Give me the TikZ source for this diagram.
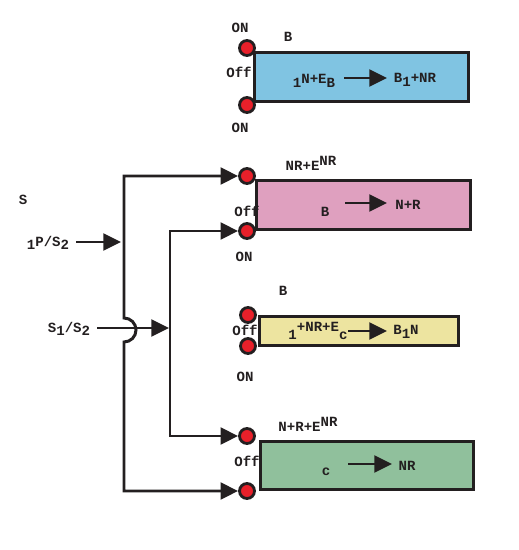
\documentclass[tikz,border=0pt]{standalone}
\usepackage{fontspec}
\usepackage{xcolor}
\usepackage{tikz}
\usetikzlibrary{arrows.meta,positioning}
\newfontfamily\monob{Liberation Mono}
\newcommand{\lowr}[1]{\raisebox{-0.45ex}{#1}}
\newcommand{\highr}[1]{\raisebox{0.7ex}{#1}}
\definecolor{inkc}{HTML}{231F20}
\definecolor{bluef}{HTML}{80C4E2}
\definecolor{pinkf}{HTML}{DFA0BF}
\definecolor{yellowf}{HTML}{EDE4A0}
\definecolor{greenf}{HTML}{90C09C}
\definecolor{pinr}{HTML}{E8202A}
\tikzset{
  lbl/.style = {font=\monob\bfseries\fontsize{8}{9}\selectfont, text=inkc, inner sep=0pt},
  stage/.style = {draw=inkc, line width=1.7pt, anchor=north west, minimum height=0.98cm, minimum width=4.28cm},
  pin/.style = {circle, draw=inkc, fill=pinr, line width=1.6pt, minimum size=0.3cm, inner sep=0pt},
  wire/.style = {draw=inkc, line width=1.7pt},
  tip/.style = {-{Triangle[length=10pt,width=9.5pt]}}
}

\begin{document}
\begin{tikzpicture}[x=0.02cm, y=-0.02cm]
    \useasboundingbox (0,0) rectangle (519,550);

    \node[stage, fill=bluef] (blue) at (253,51) {};
    \node[stage, fill=pinkf] (pink) at (255,179) {};
    \node[stage, fill=yellowf, minimum height=0.58cm, minimum width=3.98cm] (yellow) at (258,315) {};
    \node[stage, fill=greenf, minimum height=0.96cm, minimum width=4.26cm] (green) at (259,440) {};

    \node[pin] (b-top) at (247,48) {};
    \node[pin] (b-bot) at (247,105) {};
    \node[pin] (p-top) at (247,176) {};
    \node[pin] (p-bot) at (247,231) {};
    \node[pin] (y-top) at (248,315) {};
    \node[pin] (y-bot) at (248,346) {};
    \node[pin] (g-top) at (247,436) {};
    \node[pin] (g-bot) at (247,491) {};

    \node[lbl] (b-on1) at (240,28) {ON};
    \node[lbl] (b-name) at (288,37) {B};
    \node[lbl] (b-off) at (239,72) {Off};
    \node[lbl] (b-on2) at (240,128) {ON};
    \node[lbl] (b-lhs) at (314,81) {\lowr{1}N+E\lowr{B}};
    \node[lbl] (b-rhs) at (415,80) {B\lowr{1}+NR};
    \coordinate (b-arr) at (344,78);
    \draw[wire, tip] (b-arr) -- (387,78);

    \node[lbl] (p-top-lbl) at (311,163) {NR+E\highr{NR}};
    \node[lbl] (p-off) at (247,211) {Off};
    \node[lbl] (p-on) at (244,257) {ON};
    \node[lbl] (p-lhs) at (325,212) {B};
    \node[lbl] (p-rhs) at (408,205) {N+R};
    \coordinate (p-arr) at (345,203);
    \draw[wire, tip] (p-arr) -- (387,203);

    \node[lbl] (y-name) at (283,291) {B};
    \node[lbl] (y-off) at (245,330) {Off};
    \node[lbl] (y-on) at (245,377) {ON};
    \node[lbl] (y-lhs) at (318,331) {\lowr{1}\highr{+NR+E}\lowr{c}};
    \node[lbl] (y-rhs) at (406,332) {B\lowr{1}N};
    \coordinate (y-arr) at (348,331);
    \draw[wire, tip] (y-arr) -- (387,331);

    \node[lbl] (g-top-lbl) at (308,424) {N+R+E\highr{NR}};
    \node[lbl] (g-off) at (247,461) {Off};
    \node[lbl] (g-lhs) at (326,472) {c};
    \node[lbl] (g-rhs) at (407,466) {NR};
    \coordinate (g-arr) at (348,464);
    \draw[wire, tip] (g-arr) -- (392,464);

    \node[lbl] (sig) at (23,200) {S};
    \node[lbl] (ps) at (48,243) {\lowr{1}P/S\lowr{2}};
    \node[lbl] (ss) at (69,329) {S\lowr{1}/S\lowr{2}};

    \coordinate (ps-in) at (76,242);
    \coordinate (ss-in) at (97,328);
    \coordinate (hop-up) at (124,318);
    \coordinate (low-1) at (124,491);
    \coordinate (low-2) at (170,436);

    \draw[wire, tip] (ps-in) -- (121,242);
    \draw[wire, tip] (ss-in) -- (169,328);
    \draw[wire, {Triangle[length=10pt,width=9.5pt]}-{Triangle[length=10pt,width=9.5pt]}]
      (p-top) -| (hop-up) arc[start angle=-90, end angle=90, radius=12] -- (low-1) -- (g-bot);
    \draw[wire, {Triangle[length=10pt,width=9.5pt]}-{Triangle[length=10pt,width=9.5pt]}]
      (p-bot) -| (low-2) -- (g-top);
\end{tikzpicture}
\end{document}
